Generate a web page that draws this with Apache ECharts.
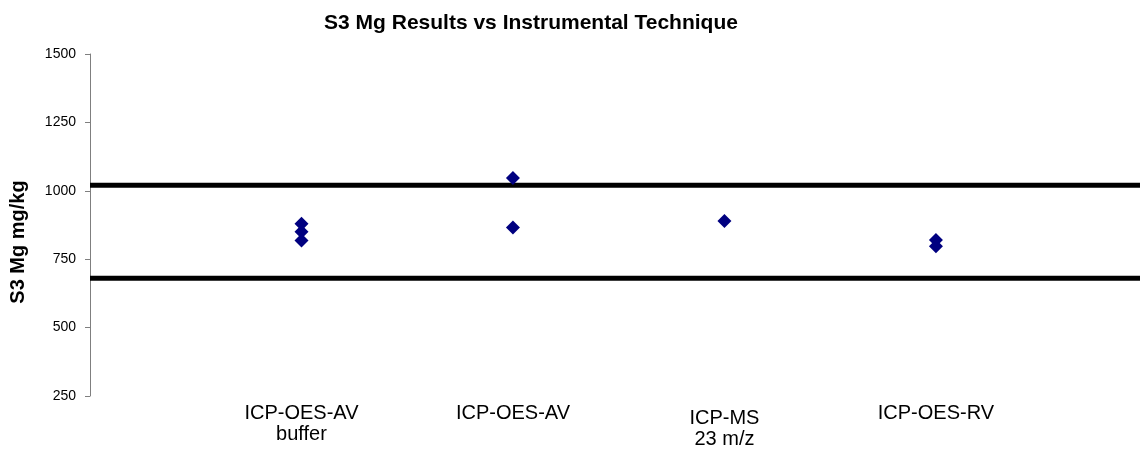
<!DOCTYPE html>
<html>
<head>
<meta charset="utf-8">
<script src="https://cdn.jsdelivr.net/npm/echarts@6/dist/echarts.min.js"></script>
<style>
  html, body { margin: 0; padding: 0; background: #ffffff; }
  #chart { width: 1140px; height: 452px; }
</style>
</head>
<body>
<div id="chart"></div>
<script>
// Instrumental techniques (x positions 1..4)
const techniques = ['ICP-OES-AV\nbuffer', 'ICP-OES-AV', 'ICP-MS\n23 m/z', 'ICP-OES-RV'];

// S3 Mg results per technique, mg/kg
const resultsOesAvBuffer = [880, 850, 818];
const resultsOesAv = [1047, 866];
const resultsMs = [890];
const resultsOesRv = [820, 797];

// Acceptance limits, mg/kg
const upperLimit = 1020;
const lowerLimit = 680;

// Y axis range and step
const yMin = 250;
const yMax = 1500;
const yStep = 250;

// Right end of the x range (technique slots are one unit apart)
const xMax = 4.965;

const groups = [resultsOesAvBuffer, resultsOesAv, resultsMs, resultsOesRv];
const points = [];
groups.forEach(function (vals, i) {
  vals.forEach(function (v) { points.push([i + 1, v]); });
});

const FONT = '"Liberation Sans", Arial, sans-serif';
const chart = echarts.init(document.getElementById('chart'), null, { renderer: 'canvas' });

chart.setOption({
  animation: false,
  backgroundColor: '#ffffff',
  title: {
    text: 'S3 Mg Results vs Instrumental Technique',
    left: 526,
    textAlign: 'center',
    top: 8,
    textStyle: { fontFamily: FONT, fontWeight: 'bold', fontSize: 21, color: '#000' }
  },
  grid: { left: 89, top: 54, right: 0, height: 342, containLabel: false },
  xAxis: {
    type: 'value',
    min: 0,
    max: xMax,
    interval: 1,
    axisLine: { show: false },
    axisTick: { show: false },
    splitLine: { show: false },
    axisLabel: {
      margin: 7,
      fontFamily: FONT,
      fontSize: 20,
      lineHeight: 21,
      color: '#000',
      verticalAlign: 'top',
      showMaxLabel: false,
      formatter: function (v) {
        const k = Math.round(v);
        if (Math.abs(v - k) > 1e-6 || k < 1 || k > techniques.length) return '';
        const txt = techniques[k - 1];
        // the mass-spec label sits a little lower
        if (k === 3) {
          return txt.split('\n').map(function (s) { return '{low|' + s + '}'; }).join('\n');
        }
        return txt;
      },
      rich: {
        low: { fontFamily: FONT, fontSize: 20, lineHeight: 21, color: '#000', padding: [5, 0, -5, 0] }
      }
    }
  },
  yAxis: {
    type: 'value',
    min: yMin,
    max: yMax,
    interval: yStep,
    name: 'S3 Mg mg/kg',
    nameLocation: 'middle',
    nameGap: 62,
    nameTextStyle: { fontFamily: FONT, fontWeight: 'bold', fontSize: 20, color: '#000', padding: [0, 34, 0, 0] },
    axisLine: { show: true, lineStyle: { color: '#7f7f7f', width: 1 } },
    axisTick: { show: true, inside: false, length: 5, lineStyle: { color: '#7f7f7f' } },
    splitLine: { show: false },
    axisLabel: {
      margin: 14,
      fontFamily: FONT,
      fontSize: 14,
      color: '#000',
      formatter: function (v) { return String(v); }
    }
  },
  series: [
    {
      type: 'line',
      data: [[0, upperLimit], [xMax, upperLimit]],
      symbol: 'none',
      lineStyle: { color: '#000', width: 5 },
      silent: true,
      z: 2
    },
    {
      type: 'line',
      data: [[0, lowerLimit], [xMax, lowerLimit]],
      symbol: 'none',
      lineStyle: { color: '#000', width: 5 },
      silent: true,
      z: 2
    },
    {
      type: 'scatter',
      data: points,
      symbol: 'diamond',
      symbolSize: 14,
      itemStyle: { color: '#000080', opacity: 1 },
      z: 3
    }
  ]
});
</script>
</body>
</html>
